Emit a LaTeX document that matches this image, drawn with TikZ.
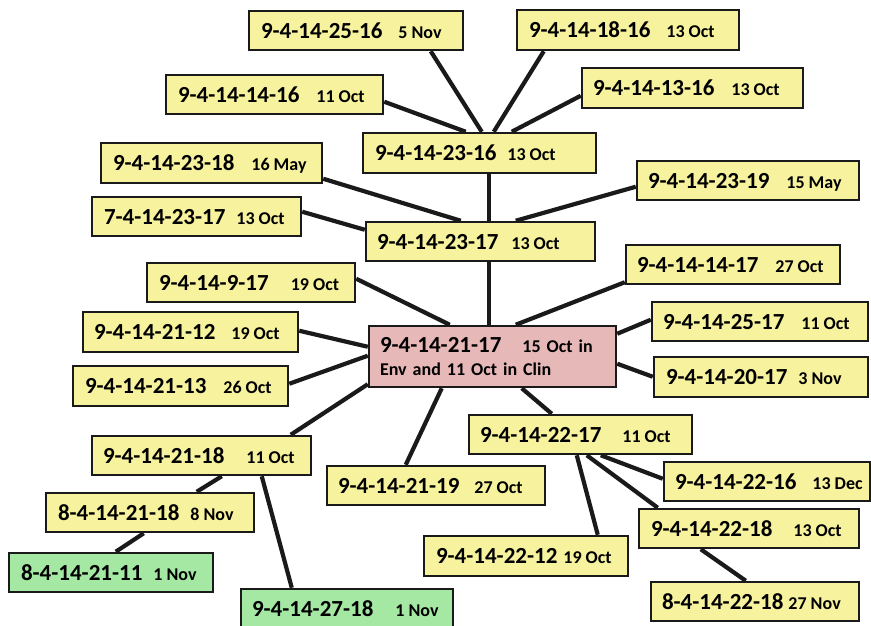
\documentclass[tikz,border=0pt]{standalone}
\usepackage{fontspec}
\setmainfont{Carlito}
\usetikzlibrary{backgrounds}
\definecolor{yel}{HTML}{F7F29D}
\definecolor{pnk}{HTML}{E6B8B7}
\definecolor{grn}{HTML}{A4E8A4}
\definecolor{edge}{HTML}{1A1A1A}
\newcommand\idf{\fontsize{23}{26}\selectfont\bfseries}
\newcommand\dtf{\fontsize{18}{23}\selectfont\bfseries}
\newcommand\Tx[3]{{\idf #1}\hspace{#2pt}{\dtf #3}}
\newcommand\Bx[8]{%
 \pgfmathsetmacro\bxw{#5-#3}%
 \pgfmathsetmacro\bxh{#6-#4}%
 \pgfmathsetmacro\bxcx{(#3+#5)/2}%
 \pgfmathsetmacro\bxcy{(#4+#6)/2}%
 \pgfmathsetmacro\bxtw{#5-#3-2*#7}%
 \node[#1, minimum width=\bxw pt, minimum height=\bxh pt, inner xsep=#7pt] (#2) at (\bxcx,\bxcy) {\makebox[\bxtw pt][l]{#8}};%
}
\tikzset{
 box/.style={rectangle, draw=edge, line width=2.5pt, inner ysep=0pt, text depth=0pt},
 yb/.style={box, fill=yel},
 gb/.style={box, fill=grn},
 conn/.style={line width=4.2pt, draw=edge},
}
\begin{document}
\begin{tikzpicture}[x=1pt,y=-1pt]
\useasboundingbox (0,0) rectangle (871,626);
\Bx{yb}{nA}{249}{11}{463}{50}{12}{\Tx{9-4-14-25-16}{16}{5 Nov}}
\Bx{yb}{nB}{517}{10}{739}{50}{12}{\Tx{9-4-14-18-16}{16}{13 Oct}}
\Bx{yb}{nC}{166}{75}{383}{114}{12}{\Tx{9-4-14-14-16}{17}{11 Oct}}
\Bx{yb}{nD}{582}{68}{803}{108}{11}{\Tx{9-4-14-13-16}{17}{13 Oct}}
\Bx{yb}{nE}{363}{133}{596}{173}{12}{\Tx{9-4-14-23-16}{11}{13 Oct}}
\Bx{yb}{nF}{101}{143}{322}{183}{12}{\Tx{9-4-14-23-18}{17}{16 May}}
\Bx{yb}{nG}{92}{197}{301}{236}{12}{\Tx{7-4-14-23-17}{11}{13 Oct}}
\Bx{yb}{nH}{637}{161}{859}{200}{11}{\Tx{9-4-14-23-19}{17}{15 May}}
\Bx{yb}{nI}{366}{222}{595}{261}{11}{\Tx{9-4-14-23-17}{13}{13 Oct}}
\Bx{yb}{nJ}{147}{263}{355}{302}{12}{\Tx{9-4-14-9-17}{22}{19 Oct}}
\Bx{yb}{nK}{626}{245}{840}{284}{11}{\Tx{9-4-14-14-17}{17}{27 Oct}}
\Bx{yb}{nL}{83}{312}{298}{352}{11}{\Tx{9-4-14-21-12}{16}{19 Oct}}
\Bx{yb}{nM}{652}{302}{868}{341}{11}{\Tx{9-4-14-25-17}{17}{11 Oct}}
\Bx{yb}{nO}{73}{366}{288}{406}{12}{\Tx{9-4-14-21-13}{17}{26 Oct}}
\Bx{yb}{nP}{654}{357}{868}{397}{12}{\Tx{9-4-14-20-17}{11}{3 Nov}}
\Bx{yb}{nQ}{92}{436}{311}{475}{11}{\Tx{9-4-14-21-18}{22}{11 Oct}}
\Bx{yb}{nR}{469}{415}{692}{454}{11}{\Tx{9-4-14-22-17}{21}{11 Oct}}
\Bx{yb}{nS}{327}{466}{545}{505}{11}{\Tx{9-4-14-21-19}{15}{27 Oct}}
\Bx{yb}{nT}{664}{462}{870}{501}{11}{\Tx{9-4-14-22-16}{16}{13 Dec}}
\Bx{yb}{nU}{46}{493}{254}{532}{12}{\Tx{8-4-14-21-18}{11}{8 Nov}}
\Bx{yb}{nV}{639}{509}{859}{548}{12}{\Tx{9-4-14-22-18}{21}{13 Oct}}
\Bx{yb}{nW}{424}{536}{628}{576}{12}{\Tx{9-4-14-22-12}{6}{19 Oct}}
\Bx{gb}{nX}{9}{553}{213}{592}{12}{\Tx{8-4-14-21-11}{11}{1 Nov}}
\Bx{gb}{nY}{241}{589}{453}{629}{11}{\Tx{9-4-14-27-18}{22}{1 Nov}}
\Bx{yb}{nZ}{651}{582}{859}{621}{11}{\Tx{8-4-14-22-18}{5}{27 Nov}}
\node[rectangle, draw=edge, line width=2.5pt, fill=pnk, minimum width=247pt, minimum height=61pt,
  inner xsep=11pt, inner ysep=0pt, text width=225pt, align=left, font=\dtf] (nN) at (492.5,356.5)
  {{\idf 9-4-14-21-17}\hspace{21pt}15 Oct in\\Env and 11 Oct in Clin};
\begin{pgfonlayer}{background}
\draw[conn] ([xshift=183pt]nA.south west) -- ([xshift=120pt]nE.north west);
\draw[conn] ([xshift=28pt]nB.south west) -- ([xshift=132pt]nE.north west);
\draw[conn] ([yshift=-28pt]nC.north east) -- ([xshift=104pt]nE.north west);
\draw[conn] ([yshift=-29pt]nD.north west) -- ([xshift=150pt]nE.north west);
\draw[conn] ([xshift=127pt]nE.south west) -- ([xshift=124pt]nI.north west);
\draw[conn] ([yshift=-37pt]nF.north east) -- ([xshift=96pt]nI.north west);
\draw[conn] ([yshift=-16pt]nG.north east) -- ([yshift=-9pt]nI.north west);
\draw[conn] ([yshift=-27pt]nH.north west) -- ([xshift=151pt]nI.north west);
\draw[conn] ([xshift=124pt]nI.south west) -- ([xshift=121pt]nN.north west);
\draw[conn] ([yshift=-17pt]nJ.north east) -- ([xshift=82pt]nN.north west);
\draw[conn] ([yshift=3pt]nK.south west) -- ([xshift=148pt]nN.north west);
\draw[conn] ([yshift=-20pt]nL.north east) -- ([yshift=-22pt]nN.north west);
\draw[conn] ([yshift=-19pt]nM.north west) -- ([yshift=-9pt]nN.north east);
\draw[conn] ([yshift=-19pt]nO.north east) -- ([yshift=-31pt]nN.north west);
\draw[conn] ([yshift=-21pt]nP.north west) -- ([yshift=-39pt]nN.north east);
\draw[conn] ([xshift=200pt]nQ.north west) -- ([yshift=4pt]nN.south west);
\draw[conn] ([xshift=80pt]nS.north west) -- ([xshift=74pt]nN.south west);
\draw[conn] ([xshift=84pt]nR.north west) -- ([xshift=154pt]nN.south west);
\draw[conn] ([xshift=131pt]nQ.south west) -- ([xshift=152pt]nU.north west);
\draw[conn] ([xshift=171pt]nQ.south west) -- ([xshift=52pt]nY.north west);
\draw[conn] ([xshift=99pt]nU.south west) -- ([xshift=108pt]nX.north west);
\draw[conn] ([xshift=109pt]nR.south west) -- ([xshift=175pt]nW.north west);
\draw[conn] ([xshift=119pt]nR.south west) -- ([xshift=20pt]nV.north west);
\draw[conn] ([xshift=133pt]nR.south west) -- ([yshift=-18pt]nT.north west);
\draw[conn] ([xshift=63pt]nV.south west) -- ([xshift=96pt]nZ.north west);
\end{pgfonlayer}
\end{tikzpicture}
\end{document}
